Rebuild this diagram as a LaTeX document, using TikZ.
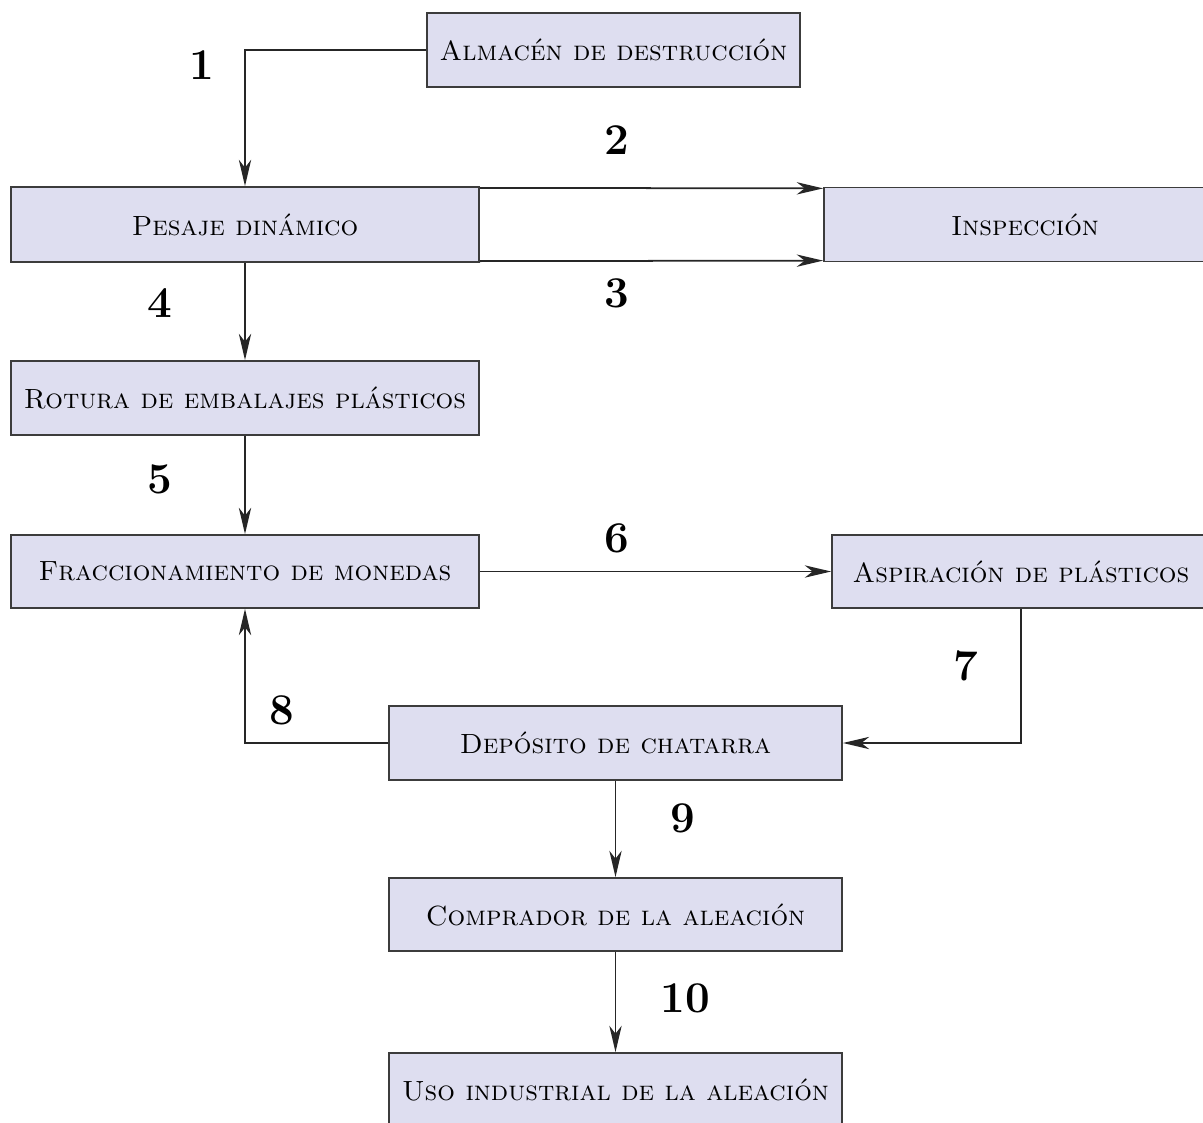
\documentclass[tikz,border=0pt]{standalone}
\usetikzlibrary{arrows.meta}
\definecolor{lavanda}{RGB}{222,222,240}
\definecolor{borde}{RGB}{60,60,60}
\begin{document}
\begin{tikzpicture}[x=0.02cm,y=-0.02cm,
    caja/.style={draw=borde,fill=lavanda,line width=1pt,inner sep=0pt,
      font=\fontsize{15.8}{19}\selectfont\scshape},
    numero/.style={font=\fontsize{25}{29}\selectfont\bfseries},
    flecha/.style={line width=1pt,draw=black!85,-{Stealth[length=15pt,width=7pt,inset=4.5pt]}}]
      \useasboundingbox (0,0) rectangle (1203,1122);
      \clip (0,0) rectangle (1203,1122);

      \node[caja,minimum width=373*0.02cm,minimum height=74*0.02cm] (alm) at (613.5,50){Almacén de destrucción};
      \node[caja,minimum width=468*0.02cm,minimum height=75*0.02cm] (pes) at (245,224.5){Pesaje dinámico};
      \node[caja,minimum width=402*0.02cm,minimum height=74*0.02cm] (ins) at (1025,224.5){Inspección};
      \node[caja,minimum width=468*0.02cm,minimum height=74*0.02cm] (rot) at (245,398){Rotura de embalajes plásticos};
      \node[caja,minimum width=468*0.02cm,minimum height=73*0.02cm] (fra) at (245,571.5){Fraccionamiento de monedas};
      \node[caja,minimum width=378*0.02cm,minimum height=73*0.02cm] (asp) at (1021,571.5){Aspiración de plásticos};
      \node[caja,minimum width=453*0.02cm,minimum height=74*0.02cm] (dep) at (615.5,743){Depósito de chatarra};
      \node[caja,minimum width=453*0.02cm,minimum height=73*0.02cm] (com) at (615.5,914.5){Comprador de la aleación};
      \node[caja,minimum width=453*0.02cm,minimum height=74*0.02cm] (uso) at (615.5,1090){Uso industrial de la aleación};

      \draw[flecha] (alm.west) -| (pes.north);
      \draw[flecha] ([yshift=-1pt]pes.north east) -- ([yshift=-1pt]ins.north west);
      \draw[flecha] ([yshift=1pt]pes.south east) -- ([yshift=1pt]ins.south west);
      \draw[flecha] (pes.south) -- (rot.north);
      \draw[flecha] (rot.south) -- (fra.north);
      \draw[flecha] (fra.east) -- (asp.west);
      \draw[flecha] (asp.south) |- (dep.east);
      \draw[flecha] (dep.west) -| (fra.south);
      \draw[flecha] (dep.south) -- (com.north);
      \draw[flecha] (com.south) -- (uso.north);

      \node[numero] (l1) at (202,65){1};
      \node[numero] (l2) at (617,140){2};
      \node[numero] (l3) at (617,293){3};
      \node[numero] (l4) at (160,303){4};
      \node[numero] (l5) at (160,479){5};
      \node[numero] (l6) at (617,538){6};
      \node[numero] (l7) at (966,666){7};
      \node[numero] (l8) at (282,710){8};
      \node[numero] (l9) at (683,818){9};
      \node[numero] (l10) at (685,998){10};
    \end{tikzpicture}
\end{document}
